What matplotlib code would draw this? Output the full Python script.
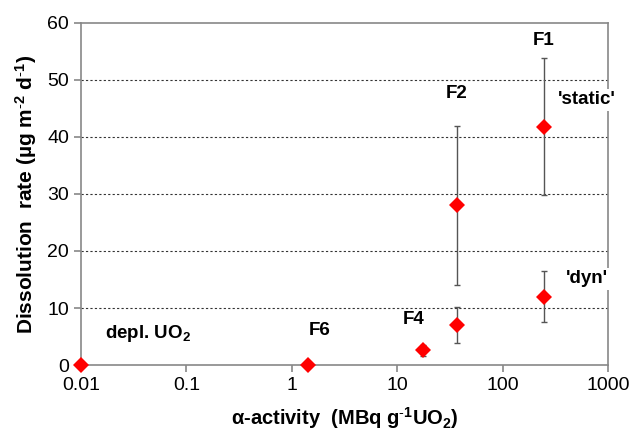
import matplotlib
matplotlib.use("Agg")
import matplotlib.pyplot as plt

plt.rcParams['font.family'] = ['Liberation Sans', 'DejaVu Sans']
plt.rcParams['mathtext.fontset'] = 'custom'
plt.rcParams['mathtext.rm'] = 'Liberation Sans'
plt.rcParams['mathtext.bf'] = 'Liberation Sans:bold'
plt.rcParams['mathtext.default'] = 'bf'

# data
activity = [0.01, 1.43, 17.5, 36.7, 36.7, 247, 247]
rate = [0.0, 0.0, 2.6, 7.0, 28.0, 41.8, 12.0]
err = [0.0, 0.0, 1.0, 3.1, 14.0, 12.0, 4.5]

labels = ["F1", "F2", "F4", "F6", "depl. UO$_2$"]
label_x = [247, 36.7, 14.4, 1.85, 0.0433]
label_y = [57.0, 47.7, 7.9, 6.1, 5.6]

mode_labels = ["'static'", "'dyn'"]
mode_x = [631, 631]
mode_y = [46.5, 15.1]

fig = plt.figure(figsize=(6.33, 4.32), dpi=100)
ax = fig.add_axes([0.128, 0.155, 0.8325, 0.792])

ax.errorbar(activity, rate, yerr=err, fmt='none', ecolor='#555555',
            elinewidth=1, capsize=2.5, capthick=1, zorder=2)
ax.plot(activity, rate, 'D', color='#ff0000', markersize=8,
        markeredgewidth=0, clip_on=False, zorder=3)

ax.set_xscale('log')
ax.set_xlim(0.01, 1000)
ax.set_ylim(0, 60)
ax.set_xticks([0.01, 0.1, 1, 10, 100, 1000])
ax.set_xticklabels(['0.01', '0.1', '1', '10', '100', '1000'])
ax.minorticks_off()
ax.set_yticks(range(0, 61, 10))

for yv in range(10, 60, 10):
    ax.axhline(yv, color='#333333', lw=0.8, ls=(0, (2, 2)), zorder=1)

for s in ax.spines.values():
    s.set_color('#888888')
    s.set_linewidth(1.2)
ax.tick_params(axis='both', colors='#888888', labelcolor='black',
               labelsize=14, length=5, width=1.2)

for t, x, y in zip(labels, label_x, label_y):
    ax.text(x, y, t, ha='center', va='center', fontsize=13.5, fontweight='bold')

for t, x, y in zip(mode_labels, mode_x, mode_y):
    ax.text(x, y, t, ha='center', va='center', fontsize=13.5, fontweight='bold',
            clip_on=False, zorder=5,
            bbox=dict(facecolor='white', edgecolor='none', pad=2))

ax.set_xlabel(r'α-activity  (MBq g$^{\text{-}1}$UO$_2$)', fontsize=14.5,
              fontweight='bold', labelpad=8)
ax.set_ylabel(r'Dissolution  rate (µg m$^{\text{-}2}$ d$^{\text{-}1}$)', fontsize=15,
              fontweight='bold', labelpad=6)

fig.savefig('out.png', dpi=100)
